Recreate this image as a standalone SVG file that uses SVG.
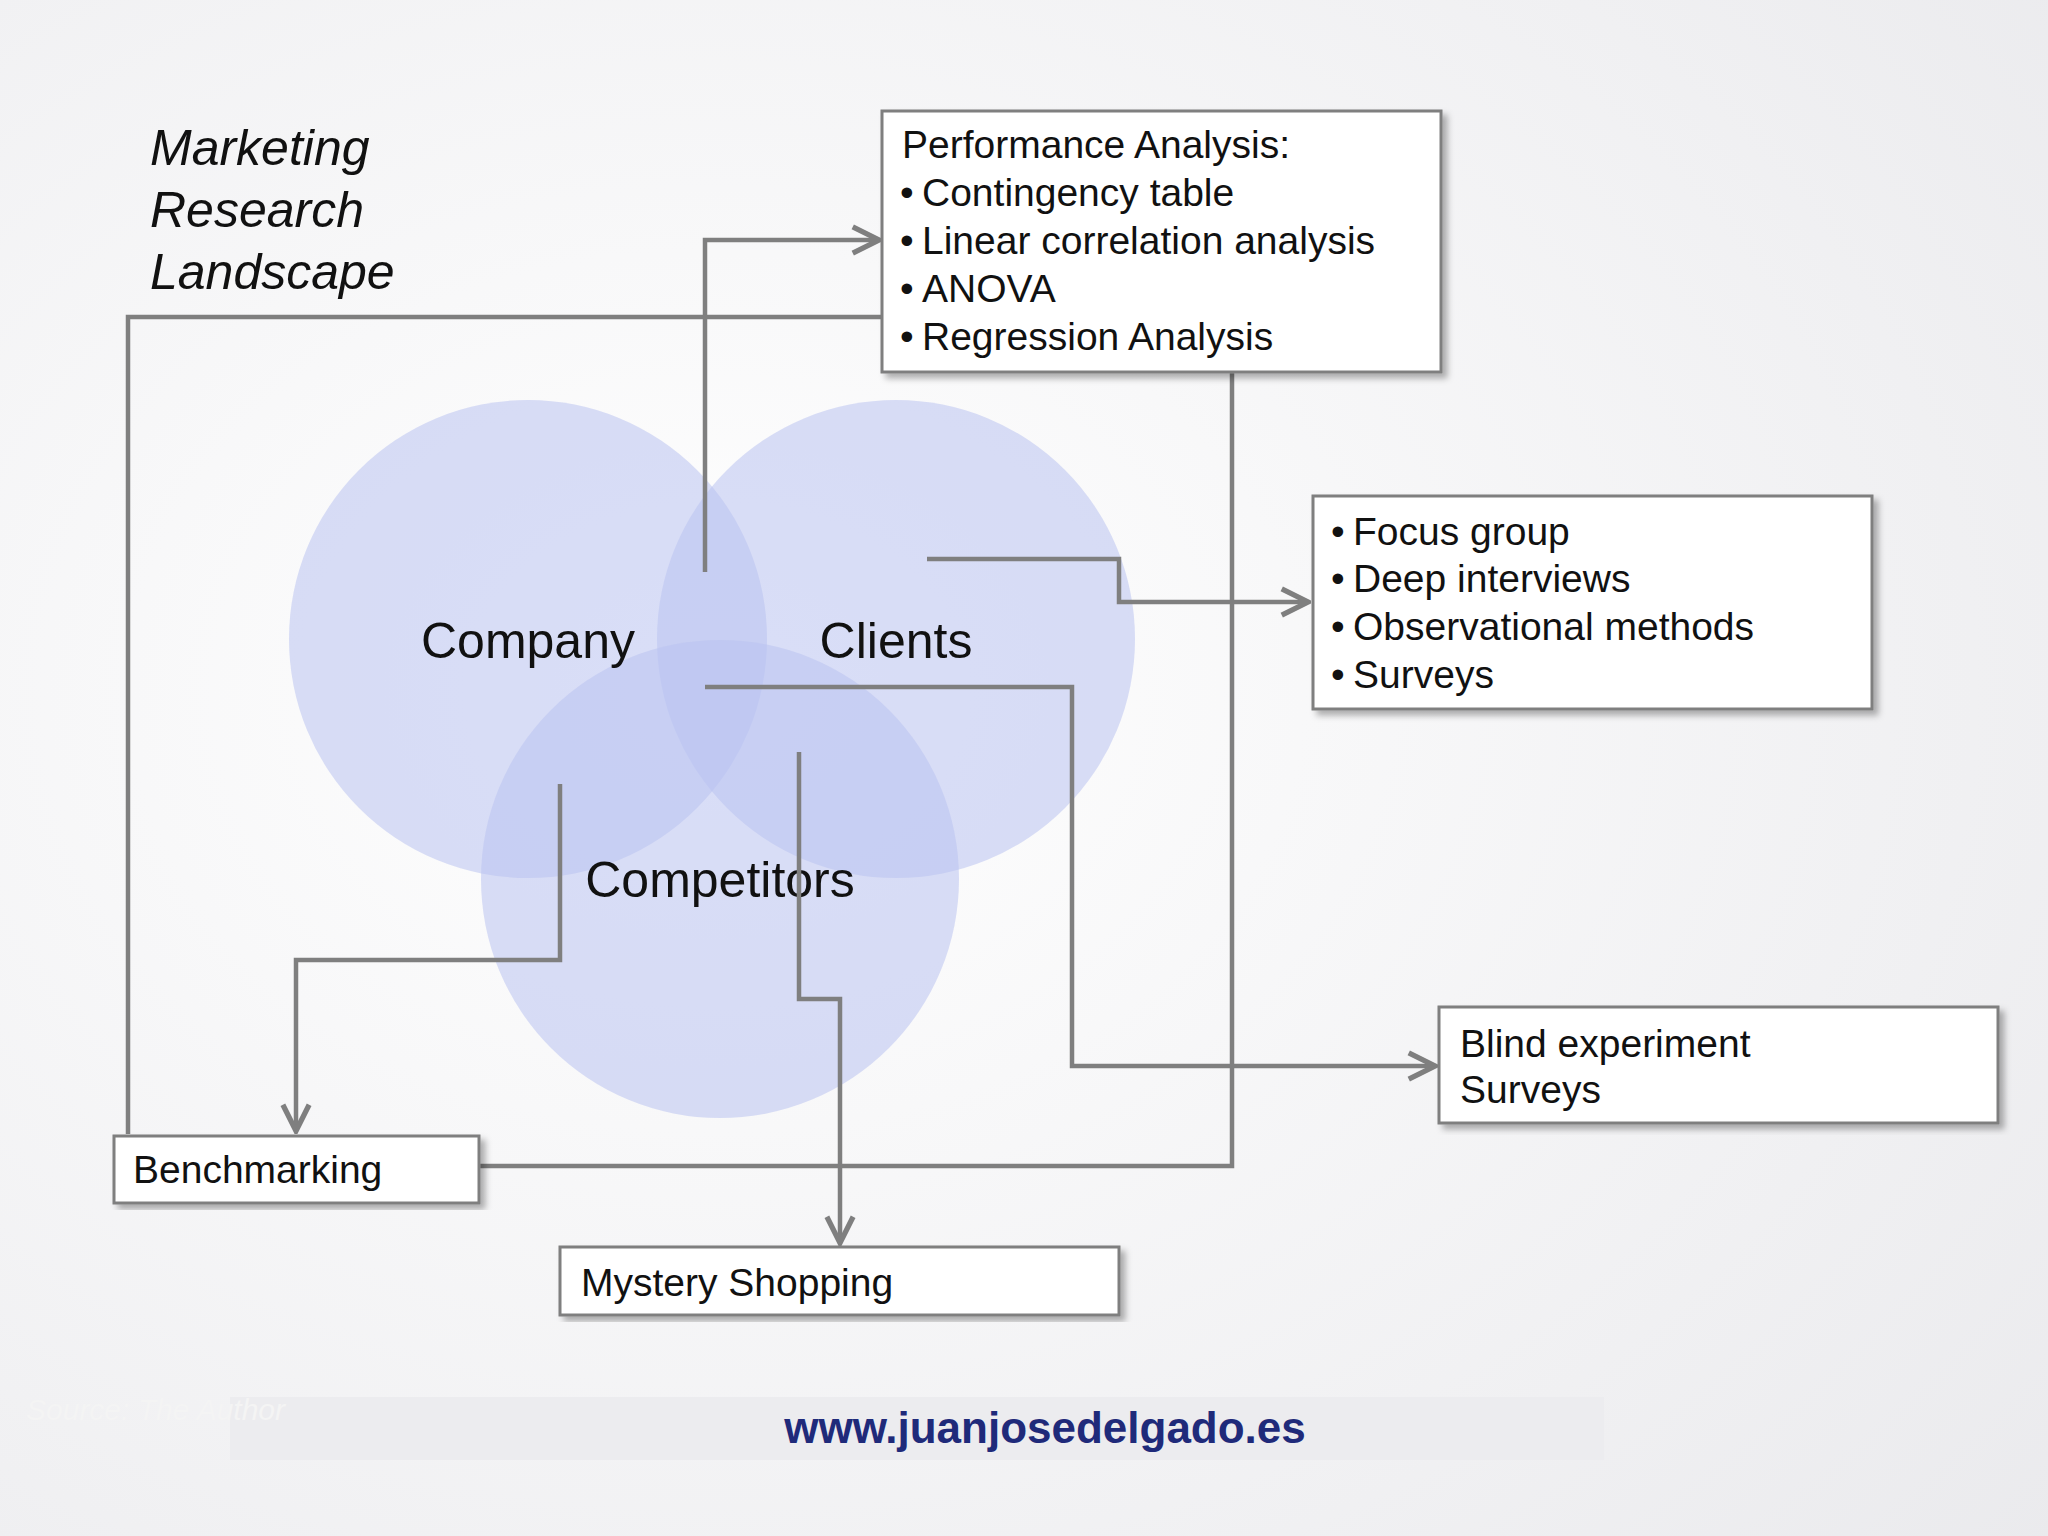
<svg xmlns="http://www.w3.org/2000/svg" width="2048" height="1536" viewBox="0 0 2048 1536">
<style>
.t{font-family:"Liberation Sans",Arial,sans-serif;fill:#111}
.box{fill:#fff;stroke:#7f7f7f;stroke-width:3}
.c{fill:none;stroke:#7f7f7f;stroke-width:4.5}
.circ{fill:#b9c3f0;fill-opacity:0.55}
</style>
<defs>
<radialGradient id="bg" cx="0.35" cy="0.45" r="0.9"><stop offset="0" stop-color="#ffffff"/><stop offset="1" stop-color="#e9e9ec"/></radialGradient>
<marker id="a" viewBox="0 0 12 12" refX="11" refY="6" markerWidth="7" markerHeight="7" orient="auto" markerUnits="strokeWidth"><path d="M1,1 L11,6 L1,11" fill="none" stroke="#7f7f7f" stroke-width="2"/></marker>
<filter id="sh"><feDropShadow dx="5" dy="5" stdDeviation="3" flood-color="#000" flood-opacity="0.3"/></filter>
</defs>
<rect width="2048" height="1536" fill="url(#bg)"/>
<text class="t" x="150" y="165" font-size="50" font-style="italic">Marketing</text>
<text class="t" x="150" y="227" font-size="50" font-style="italic">Research</text>
<text class="t" x="150" y="289" font-size="50" font-style="italic">Landscape</text>
<g id="circles">
<circle class="circ" cx="528" cy="639" r="239"/>
<circle class="circ" cx="896" cy="639" r="239"/>
<circle class="circ" cx="720" cy="879" r="239"/>
</g>
<g id="company"><text class="t" x="528" y="658" font-size="50" text-anchor="middle">Company</text></g>
<g id="clients"><text class="t" x="896" y="658" font-size="50" text-anchor="middle">Clients</text></g>
<g id="competitors"><text class="t" x="720" y="897" font-size="50" text-anchor="middle">Competitors</text></g>
<g id="connectors">
<polyline class="c" points="705,572 705,240 879,240" marker-end="url(#a)"/>
<polyline class="c" points="882,317 128,317 128,1134"/>
<polyline class="c" points="1232,372 1232,1166 479,1166"/>
<polyline class="c" points="927,559 1119,559 1119,602 1308,602" marker-end="url(#a)"/>
<polyline class="c" points="705,687 1072,687 1072,1066 1435,1066" marker-end="url(#a)"/>
<polyline class="c" points="560,784 560,960 296,960 296,1131" marker-end="url(#a)"/>
<polyline class="c" points="799,752 799,999 840,999 840,1243" marker-end="url(#a)"/>
</g>
<g id="performance">
<rect class="box" x="882" y="111" width="559" height="261" filter="url(#sh)"/>
<g class="t" font-size="39">
<text class="t" x="902" y="158">Performance Analysis:</text>
<text class="t" x="900" y="206">•</text><text class="t" x="922" y="206">Contingency table</text>
<text class="t" x="900" y="254">•</text><text class="t" x="922" y="254">Linear correlation analysis</text>
<text class="t" x="900" y="302">•</text><text class="t" x="922" y="302">ANOVA</text>
<text class="t" x="900" y="350">•</text><text class="t" x="922" y="350">Regression Analysis</text>
</g>
</g>
<g id="qualitative" font-size="39">
<rect class="box" x="1313" y="496" width="559" height="213" filter="url(#sh)"/>
<text class="t" x="1331" y="545">•</text><text class="t" x="1353" y="545">Focus group</text>
<text class="t" x="1331" y="592">•</text><text class="t" x="1353" y="592">Deep interviews</text>
<text class="t" x="1331" y="640">•</text><text class="t" x="1353" y="640">Observational methods</text>
<text class="t" x="1331" y="688">•</text><text class="t" x="1353" y="688">Surveys</text>
</g>
<g id="blind" font-size="39">
<rect class="box" x="1439" y="1007" width="559" height="116" filter="url(#sh)"/>
<text class="t" x="1460" y="1057">Blind experiment</text>
<text class="t" x="1460" y="1103">Surveys</text>
</g>
<g id="benchmarking">
<rect class="box" x="114" y="1136" width="365" height="67" filter="url(#sh)"/>
<text class="t" x="133" y="1183" font-size="39">Benchmarking</text>
</g>
<g id="mystery">
<rect class="box" x="560" y="1247" width="559" height="68" filter="url(#sh)"/>
<text class="t" x="581" y="1296" font-size="39">Mystery Shopping</text>
</g>
<rect x="230" y="1397" width="1374" height="63" fill="#ececef"/>
<text x="26" y="1420" font-family="Liberation Sans,Arial,sans-serif" font-size="30" font-style="italic" fill="#f4f4f4">Source: The Author</text>
<text x="1045" y="1443" font-family="Liberation Sans,Arial,sans-serif" font-size="44" font-weight="bold" fill="#1f2a7a" text-anchor="middle">www.juanjosedelgado.es</text>
</svg>
